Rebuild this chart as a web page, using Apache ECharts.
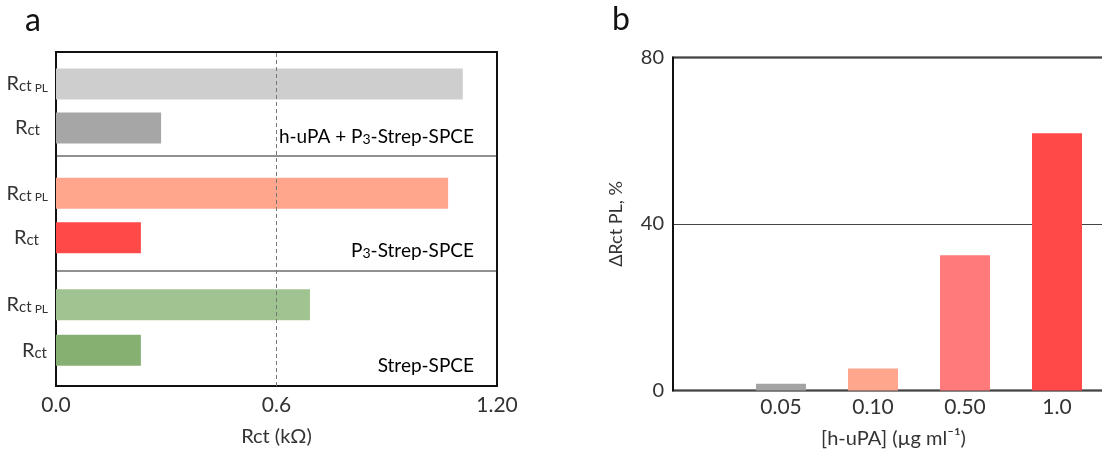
<!DOCTYPE html>
<html>
<head>
<meta charset="utf-8">
<script src="https://cdn.jsdelivr.net/npm/echarts@6/dist/echarts.min.js"></script>
<style>
  html, body { margin: 0; padding: 0; background: #fff; }
  #chart { width: 1102px; height: 452px; }
</style>
</head>
<body>
<div id="chart"></div>
<script>
// panel a: Rct of the three electrodes
const rowLabels = ['Rct', 'Rct PL'];
const groupNames = ['h-uPA + P3-Strep-SPCE', 'P3-Strep-SPCE', 'Strep-SPCE'];
const rctValues = [0.286, 0.231, 0.231];
const rctPlValues = [1.107, 1.067, 0.691];
const rctTicks = ['0.0', '0.6', '1.20'];

// panel b: ΔRct PL vs concentration
const concLabels = ['0.05', '0.10', '0.50', '1.0'];
const deltaValues = [1.6, 5.3, 32.5, 61.8];

const FONT = 'Lato';
const TXT = '#333';

// colours, one pair per group in panel a
const groupColors = [
  { rct: '#a6a6a6', pl: '#cecece' },
  { rct: '#ff4848', pl: '#ffa68c' },
  { rct: '#86b072', pl: '#a0c491' },
];
const concColors = ['#a3a3a3', '#ffa68c', '#ff7b7b', '#ff4848'];

// layout
const boxA = { left: 56, top: 52, width: 441, height: 334 };
const dividers = [156, 271];
const sectionGrids = [
  { top: 62, height: 88 },
  { top: 171, height: 89 },
  { top: 282, height: 91 },
];
const labelY = [137, 251, 366];
const labelShift = [[8, 0], [9, 0], [1, -2]]; // right padding of Rct / Rct PL labels

const chart = echarts.init(document.getElementById('chart'));

const grids = [
  // 0: frame of panel a
  { left: boxA.left, top: boxA.top, width: boxA.width, height: boxA.height,
    show: true, borderColor: '#111', borderWidth: 2, outerBoundsMode: 'none' },
];
const xAxes = [
  { gridIndex: 0, type: 'value', min: 0, max: 1.2, interval: 0.6,
    axisLine: { show: false }, axisTick: { show: false }, splitLine: { show: false },
    axisLabel: { formatter: (v, i) => rctTicks[i], color: TXT, fontSize: 21, fontFamily: FONT, margin: 9 },
    name: 'Rct (kΩ)', nameLocation: 'middle', nameGap: 41,
    nameTextStyle: { color: TXT, fontSize: 20, fontFamily: FONT } },
];
const yAxes = [
  { gridIndex: 0, type: 'value', min: 0, max: 1, show: false },
];
const series = [
  { type: 'line', xAxisIndex: 0, yAxisIndex: 0, data: [], silent: true,
    markLine: { symbol: 'none', silent: true, label: { show: false },
      lineStyle: { type: [4, 3], color: '#777', width: 1 },
      data: [{ xAxis: 0.6 }] } },
];

groupNames.forEach((g, k) => {
  const gi = grids.length;
  const pad = labelShift[k];
  grids.push({ left: boxA.left, width: boxA.width, top: sectionGrids[k].top,
    height: sectionGrids[k].height, outerBoundsMode: 'none' });
  xAxes.push({ gridIndex: gi, type: 'value', min: 0, max: 1.2, show: false });
  yAxes.push({ gridIndex: gi, type: 'category', data: rowLabels,
    axisLine: { show: false }, axisTick: { show: false },
    axisLabel: {
      margin: 8,
      formatter: v => v === 'Rct PL' ? '{r|R}{s|ct}{p| PL}{g2|}' : '{r|R}{s|ct}{g1|}',
      rich: {
        r: { fontSize: 20, color: TXT, fontFamily: FONT, verticalAlign: 'bottom' },
        s: { fontSize: 15, color: TXT, fontFamily: FONT, verticalAlign: 'bottom' },
        p: { fontSize: 12, color: TXT, fontFamily: FONT, verticalAlign: 'bottom' },
        g1: { width: pad[0] },
        g2: { width: Math.max(pad[1], 0) },
      },
    } });
  series.push({ type: 'bar', xAxisIndex: gi, yAxisIndex: gi, barWidth: 31,
    data: [
      { value: rctValues[k], itemStyle: { color: groupColors[k].rct } },
      { value: rctPlValues[k], itemStyle: { color: groupColors[k].pl } },
    ] });
});

// panel b frame + bars
const fb = grids.length;
grids.push({ left: 673, top: 57.5, right: -12, bottom: 61.5, show: true,
  borderColor: '#111', borderWidth: 2, outerBoundsMode: 'none' });
xAxes.push({ gridIndex: fb, type: 'value', min: 0, max: 1, axisLine: { show: false },
  axisTick: { show: false }, axisLabel: { show: false }, splitLine: { show: false },
  name: '[h-uPA] (µg ml⁻¹)', nameLocation: 'middle', nameGap: 38,
  nameTextStyle: { color: TXT, fontSize: 20, fontFamily: FONT } });
yAxes.push({ gridIndex: fb, type: 'value', min: 0, max: 80, interval: 40,
  axisLine: { show: true, lineStyle: { color: '#111', width: 2 } }, axisTick: { show: false },
  splitLine: { show: true, lineStyle: { color: '#444', width: 1 } },
  axisLabel: { color: TXT, fontSize: 20, fontFamily: FONT, margin: 9 },
  name: 'ΔRct PL, %', nameLocation: 'middle', nameRotate: 90, nameGap: 48,
  nameTextStyle: { color: TXT, fontSize: 18, fontFamily: FONT } });

const bb = grids.length;
grids.push({ left: 735, top: 57.5, right: -1, bottom: 61.5, outerBoundsMode: 'none' });
xAxes.push({ gridIndex: bb, type: 'category', data: concLabels,
  axisLine: { show: false }, axisTick: { show: false },
  axisLabel: { color: TXT, fontSize: 21, fontFamily: FONT, margin: 6 } });
yAxes.push({ gridIndex: bb, type: 'value', min: 0, max: 80, show: false });
series.push({ type: 'bar', xAxisIndex: bb, yAxisIndex: bb, barWidth: 50,
  data: deltaValues.map((v, i) => ({ value: v, itemStyle: { color: concColors[i] } })) });

const groupRich = {
  a: { fontSize: 19, color: TXT, fontFamily: FONT },
  b: { fontSize: 14, color: TXT, fontFamily: FONT, padding: [5, 0, 0, 0] },
};
// P3 -> P with a small lowered 3
const groupText = name => name.split('P3')
  .map(part => part ? '{a|' + part + '}' : '')
  .join('{a|P}{b|3}');

option = {
  animation: false,
  backgroundColor: '#fff',
  grid: grids,
  xAxis: xAxes,
  yAxis: yAxes,
  series: series,
  graphic: [
    { type: 'text', left: 25, top: 5, style: { text: 'a', fontSize: 32, fill: '#111', fontFamily: FONT } },
    { type: 'text', left: 612, top: 4, style: { text: 'b', fontSize: 32, fill: '#111', fontFamily: FONT } },
    ...dividers.map(y => ({ type: 'line', silent: true, z: 5,
      shape: { x1: boxA.left, y1: y, x2: boxA.left + boxA.width, y2: y },
      style: { stroke: '#222', lineWidth: 1 } })),
    ...groupNames.map((g, k) => ({ type: 'text', z: 5, x: 474, y: labelY[k],
      style: { text: groupText(g), rich: groupRich, align: 'right', verticalAlign: 'middle' } })),
  ],
};
chart.setOption(option);
</script>
</body>
</html>
